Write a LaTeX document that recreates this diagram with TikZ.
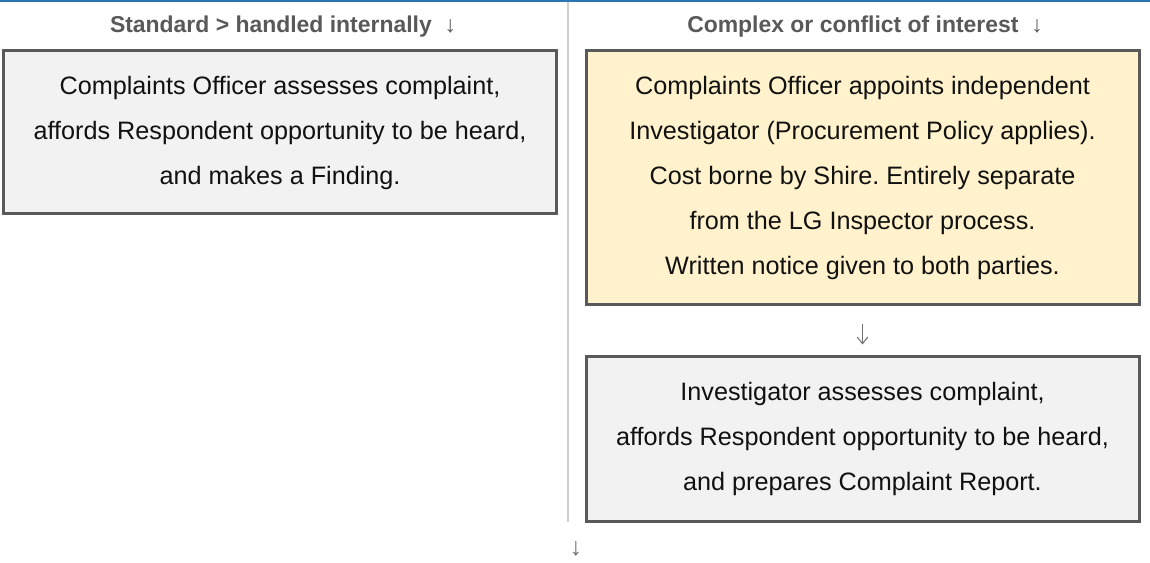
\documentclass[tikz,border=0pt]{standalone}
\usepackage{fontspec}
\setmainfont{Liberation Sans}
\usetikzlibrary{arrows.meta}
\frenchspacing
\definecolor{topblue}{HTML}{2E75B6}
\definecolor{divgray}{HTML}{D0D0D0}
\definecolor{boxborder}{HTML}{595959}
\definecolor{boxgray}{HTML}{F2F2F2}
\definecolor{boxyellow}{HTML}{FFF2CC}
\definecolor{headgray}{HTML}{595959}
\definecolor{arrowgray}{HTML}{707070}
\definecolor{bodytext}{HTML}{111111}
\begin{document}
\begin{tikzpicture}[x=0.75pt,y=-0.75pt,
  stepbox/.style={draw=boxborder, line width=2.25pt, inner sep=0pt, align=center,
    text=bodytext, font=\fontsize{18.9}{33.75}\selectfont, minimum width=414.75pt},
  headlabel/.style={inner sep=0pt, text=headgray, font=\fontsize{17.2}{20}\selectfont\bfseries},
  glyph/.style={inner sep=0pt, text=arrowgray, font=\fontsize{18.9}{20}\selectfont},
  flow/.style={-{Straight Barb[length=5pt,width=8pt]}, draw=arrowgray, line width=0.75pt}]
\useasboundingbox (0,0) rectangle (1150,563);
\fill[white] (0,0) rectangle (1150,563);
% top rule and column divider
\fill[topblue] (0,0) rectangle (1150,2.5);
\coordinate (dtop) at (568,2.5);
\coordinate (dbot) at (568,522);
\draw[divgray, line width=1.5pt] (dtop) -- (dbot);
% headers
\node[headlabel] (hstd) at (283,27) {Standard > handled internally\ \ {\mdseries ↓}};
\node[headlabel] (hcpx) at (865,27) {Complex or conflict of interest\ \ {\mdseries ↓}};
% boxes
\node[stepbox, fill=boxgray, minimum height=122.25pt] (std) at (280,132.5)
  {Complaints Officer assesses complaint,\\affords Respondent opportunity to be heard,\\and makes a Finding.};
\node[stepbox, fill=boxyellow, minimum height=189.75pt] (inv) at (862.5,177.5)
  {Complaints Officer appoints independent\\Investigator (Procurement Policy applies).\\Cost borne by Shire. Entirely separate\\from the LG Inspector process.\\Written notice given to both parties.};
\node[stepbox, fill=boxgray, minimum height=123.75pt] (rep) at (862.5,438.5)
  {Investigator assesses complaint,\\affords Respondent opportunity to be heard,\\and prepares Complaint Report.};
% connectors
\draw[flow, shorten <=13.5pt, shorten >=7.5pt] (inv.south) -- (rep.north);
\node[glyph] (next) at (576,549) {↓};
\end{tikzpicture}
\end{document}
